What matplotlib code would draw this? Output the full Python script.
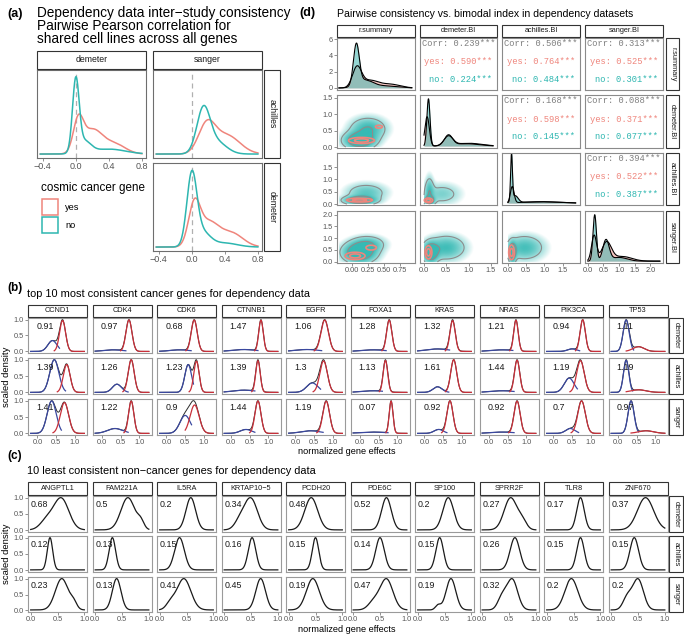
import numpy as np
import matplotlib
matplotlib.use('Agg')
import matplotlib.pyplot as plt
from matplotlib.patches import Rectangle
from matplotlib.colors import to_rgb

plt.rcParams['font.family'] = ['Liberation Sans', 'DejaVu Sans']

W, H = 684, 637

# ---------------- data ----------------
datasets = ['demeter', 'achilles', 'sanger']

# (a) density curves, components (centre, sd, height)
a_ach_dem_no = [(0.0, 0.04, 72), (0.1, 0.08, 12), (0.4, 0.2, 5)]
a_ach_dem_yes = [(0.03, 0.06, 31), (0.2, 0.12, 24), (0.47, 0.13, 10)]
a_ach_sang_no = [(0.14, 0.08, 44), (0.3, 0.12, 12)]
a_ach_sang_yes = [(0.18, 0.1, 28), (0.42, 0.16, 19)]
a_dem_sang_no = [(0.0, 0.06, 70), (0.12, 0.1, 15), (0.4, 0.15, 4)]
a_dem_sang_yes = [(0.03, 0.07, 40), (0.2, 0.12, 24), (0.48, 0.14, 14)]
a_xticks = [-0.4, 0.0, 0.4, 0.8]
a_xticklabels = ['−0.4', '0.0', '0.4', '0.8']

# (b) top 10 consistent cancer genes
b_genes = ['CCND1', 'CDK4', 'CDK6', 'CTNNB1', 'EGFR', 'FOXA1', 'KRAS', 'NRAS', 'PIK3CA', 'TP53']
b_bi = [[0.91, 0.97, 0.68, 1.47, 1.06, 1.28, 1.32, 1.21, 0.94, 1.11],
        [1.39, 1.26, 1.23, 1.39, 1.3, 1.13, 1.61, 1.44, 1.19, 1.19],
        [1.41, 1.22, 0.9, 1.44, 1.19, 0.07, 0.92, 0.92, 0.7, 0.97]]
b_red_mu = [[0.67, 0.72, 0.74, 0.80, 0.78, 0.78, 0.75, 0.72, 0.78, 0.55],
            [0.78, 0.78, 0.80, 0.72, 0.75, 0.68, 0.78, 0.75, 0.72, 0.55],
            [0.72, 0.78, 0.75, 0.72, 0.82, 0.83, 0.68, 0.75, 0.75, 0.75]]
b_red_sd = [[0.08, 0.08, 0.08, 0.06, 0.10, 0.07, 0.07, 0.06, 0.07, 0.15],
            [0.09, 0.08, 0.07, 0.06, 0.10, 0.06, 0.08, 0.07, 0.10, 0.20],
            [0.11, 0.07, 0.12, 0.08, 0.09, 0.05, 0.08, 0.08, 0.10, 0.20]]
b_red_h = [[1.0, 1.0, 1.0, 1.0, 1.0, 1.0, 1.0, 1.0, 1.0, 0.15],
           [0.85, 1.0, 0.9, 1.0, 1.0, 1.0, 1.0, 1.0, 1.0, 0.08],
           [0.9, 1.0, 0.95, 1.0, 1.0, 1.0, 1.0, 1.0, 1.0, 0.08]]
b_blue_mu = [[0.40, 0.30, 0.35, 0.35, 0.30, 0.35, 0.35, 0.35, 0.50, 0.22],
             [0.45, 0.40, 0.58, 0.35, 0.45, 0.35, 0.35, 0.35, 0.42, 0.22],
             [0.38, 0.35, 0.50, 0.40, 0.40, 0.35, 0.38, 0.35, 0.45, 0.35]]
b_blue_sd = [[0.12, 0.25, 0.25, 0.30, 0.30, 0.30, 0.30, 0.30, 0.12, 0.08],
             [0.12, 0.12, 0.09, 0.30, 0.15, 0.30, 0.12, 0.30, 0.13, 0.07],
             [0.12, 0.20, 0.14, 0.15, 0.25, 0.35, 0.12, 0.30, 0.12, 0.08]]
b_blue_h = [[0.35, 0.05, 0.05, 0.06, 0.06, 0.05, 0.08, 0.05, 0.08, 1.0],
            [1.0, 0.25, 0.8, 0.07, 0.3, 0.05, 0.17, 0.05, 0.45, 1.0],
            [0.95, 0.15, 0.6, 0.12, 0.08, 0.04, 0.12, 0.04, 0.15, 1.0]]

# (c) 10 least consistent non-cancer genes
c_genes = ['ANGPTL1', 'FAM221A', 'IL5RA', 'KRTAP10−5', 'PCDH20', 'PDE6C', 'SP100', 'SPRR2F', 'TLR8', 'ZNF670']
c_bi = [[0.68, 0.5, 0.2, 0.34, 0.48, 0.52, 0.2, 0.27, 0.17, 0.37],
        [0.12, 0.13, 0.15, 0.16, 0.15, 0.14, 0.15, 0.26, 0.15, 0.15],
        [0.23, 0.13, 0.41, 0.45, 0.19, 0.47, 0.19, 0.32, 0.2, 0.2]]
c_mu = [[0.57, 0.61, 0.58, 0.50, 0.42, 0.62, 0.57, 0.53, 0.63, 0.64],
        [0.36, 0.32, 0.37, 0.52, 0.50, 0.50, 0.41, 0.61, 0.63, 0.43],
        [0.58, 0.40, 0.45, 0.68, 0.45, 0.62, 0.62, 0.56, 0.46, 0.50]]
c_sd = [[0.14, 0.13, 0.09, 0.12, 0.12, 0.09, 0.10, 0.12, 0.07, 0.15],
        [0.05, 0.06, 0.09, 0.07, 0.06, 0.08, 0.07, 0.09, 0.07, 0.08],
        [0.12, 0.08, 0.13, 0.09, 0.12, 0.12, 0.09, 0.10, 0.12, 0.10]]
c_sh_mu = [[0.30, 0.85, 0.00, 0.30, 0.00, 0.00, 0.00, 0.75, 0.00, 0.00],
           [0.00, 0.00, 0.00, 0.00, 0.00, 0.00, 0.00, 0.00, 0.00, 0.00],
           [0.80, 0.00, 0.20, 0.00, 0.00, 0.38, 0.38, 0.37, 0.00, 0.30]]
c_sh_sd = [[0.12, 0.06, 0.10, 0.10, 0.10, 0.10, 0.10, 0.08, 0.10, 0.10],
           [0.10, 0.10, 0.10, 0.10, 0.10, 0.10, 0.10, 0.10, 0.10, 0.10],
           [0.06, 0.10, 0.08, 0.10, 0.10, 0.10, 0.05, 0.08, 0.10, 0.08]]
c_sh_h = [[0.30, 0.22, 0.00, 0.30, 0.00, 0.00, 0.00, 0.25, 0.00, 0.00],
          [0.00, 0.00, 0.00, 0.00, 0.00, 0.00, 0.00, 0.00, 0.00, 0.00],
          [0.20, 0.00, 0.20, 0.00, 0.00, 0.25, 0.15, 0.40, 0.00, 0.40]]

# (d) pairs plot
d_vars = ['r.summary', 'demeter.BI', 'achilles.BI', 'sanger.BI']
dens_rs_no = [(0.07, 0.045, 5.0), (0.2, 0.12, 0.9), (0.5, 0.2, 0.25)]
dens_rs_yes = [(0.08, 0.07, 2.45), (0.28, 0.13, 0.9), (0.6, 0.15, 0.45)]
dens_dem_no = [(0.1, 0.035, 1.0), (0.55, 0.09, 0.22), (0.95, 0.3, 0.05)]
dens_dem_yes = [(0.07, 0.05, 0.62), (0.55, 0.1, 0.2), (1.0, 0.3, 0.06)]
dens_ach_no = [(0.1, 0.025, 1.0), (0.2, 0.08, 0.15), (0.9, 0.5, 0.03)]
dens_ach_yes = [(0.12, 0.05, 0.35), (0.9, 0.5, 0.03)]
dens_sang_no = [(0.22, 0.055, 1.0), (0.58, 0.1, 0.45), (1.0, 0.25, 0.08)]
dens_sang_yes = [(0.2, 0.08, 0.55), (0.6, 0.15, 0.4), (1.1, 0.3, 0.1)]
d_ranges = [(-0.2, 0.93), (0.0, 1.55), (0.0, 1.85), (0.0, 2.3)]

# clouds: (cx, cy, sx, sy, weight)
cloud_dem_rs_no = [(0.12, 0.2, 0.14, 0.15, 1.0), (0.25, 0.55, 0.16, 0.2, 0.5)]
cloud_dem_rs_yes = [(0.15, 0.2, 0.13, 0.06, 1.0), (0.42, 0.62, 0.06, 0.05, 0.45)]
cloud_ach_rs_no = [(0.12, 0.15, 0.14, 0.1, 1.0), (0.22, 0.45, 0.18, 0.22, 0.35)]
cloud_ach_rs_yes = [(0.12, 0.16, 0.13, 0.05, 1.0)]
cloud_ach_dem_no = [(0.12, 0.15, 0.07, 0.1, 1.0), (0.12, 0.5, 0.06, 0.35, 0.5), (0.4, 0.4, 0.25, 0.25, 0.3)]
cloud_ach_dem_yes = [(0.1, 0.15, 0.06, 0.06, 1.0)]
cloud_sang_rs_no = [(0.12, 0.4, 0.15, 0.25, 1.0), (0.25, 0.75, 0.15, 0.2, 0.4)]
cloud_sang_rs_yes = [(0.05, 0.25, 0.1, 0.1, 1.0), (0.3, 0.6, 0.08, 0.1, 0.5)]
cloud_sang_dem_no = [(0.15, 0.4, 0.1, 0.25, 1.0), (0.5, 0.6, 0.25, 0.3, 0.5)]
cloud_sang_dem_yes = [(0.1, 0.4, 0.05, 0.18, 1.0)]
cloud_sang_ach_no = [(0.12, 0.4, 0.06, 0.25, 1.0), (0.45, 0.6, 0.3, 0.3, 0.5)]
cloud_sang_ach_yes = [(0.1, 0.4, 0.05, 0.2, 1.0)]

corr_all = [[None, 0.239, 0.506, 0.313], [None, None, 0.168, 0.088], [None, None, None, 0.394]]
corr_yes = [[None, 0.590, 0.764, 0.525], [None, None, 0.598, 0.371], [None, None, None, 0.522]]
corr_no = [[None, 0.224, 0.484, 0.301], [None, None, 0.145, 0.077], [None, None, None, 0.387]]

col_yes = '#EF857C'
col_no = '#2DB6B0'
col_red = '#C9303A'
col_blue = '#3A48A0'

# ---------------- helpers ----------------
fig = plt.figure(figsize=(W / 100, H / 100), dpi=100)


def add_px(x0, y0, x1, y1):
    return fig.add_axes([x0 / W, 1 - y1 / H, (x1 - x0) / W, (y1 - y0) / H])


def ftext(x, y, s, **kw):
    return fig.text(x / W, 1 - y / H, s, **kw)


def strip(x0, y0, x1, y1, label, rot=0, fs=5.3):
    fig.add_artist(Rectangle((x0 / W, 1 - y1 / H), (x1 - x0) / W, (y1 - y0) / H,
                             transform=fig.transFigure, facecolor='white',
                             edgecolor='#333333', lw=0.8))
    ftext((x0 + x1) / 2, (y0 + y1) / 2, label, rotation=rot, ha='center',
          va='center', fontsize=fs, color='#1a1a1a')


def frame(ax, ec='#999999', fs=5.3):
    for s in ax.spines.values():
        s.set_edgecolor(ec)
        s.set_linewidth(0.8)
    ax.tick_params(length=2, width=0.5, color='#666666', labelsize=fs,
                   labelcolor='#555555', pad=1)
    ax.set_xticks([])
    ax.set_yticks([])


def mix(x, comps):
    y = np.zeros_like(x)
    for mu, sd, h in comps:
        y = y + h * np.exp(-0.5 * ((x - mu) / sd) ** 2)
    return y


def mix2d(X, Y, comps):
    z = np.zeros_like(X)
    for cx, cy, sx, sy, w in comps:
        z = z + w * np.exp(-0.5 * (((X - cx) / sx) ** 2 + ((Y - cy) / sy) ** 2))
    return z


# ---------------- (a) ----------------
ftext(7, 14, '(a)', fontsize=9, fontweight='bold', va='center')
for k, line in enumerate(['Dependency data inter−study consistency',
                          'Pairwise Pearson correlation for',
                          'shared cell lines across all genes']):
    ftext(37, 13 + 12.8 * k, line, fontsize=9.8, va='center')

strip(37, 51, 146, 69, 'demeter', fs=6.3)
strip(153, 51, 262, 69, 'sanger', fs=6.3)
strip(264, 70, 280, 158, 'achilles', rot=-90, fs=6.3)
strip(264, 163, 280, 251, 'demeter', rot=-90, fs=6.3)

xa = np.linspace(-0.43, 0.80, 300)
a_panels = [((37, 70, 146, 158), a_ach_dem_no, a_ach_dem_yes, True),
            ((153, 70, 262, 158), a_ach_sang_no, a_ach_sang_yes, False),
            ((153, 163, 262, 251), a_dem_sang_no, a_dem_sang_yes, True)]
for box, no, yes, show_x in a_panels:
    ax = add_px(*box)
    frame(ax, '#6e6e6e', fs=6.5)
    ax.axvline(0, color='#b0b0b0', ls=(0, (4, 3)), lw=0.9)
    ax.plot(xa, mix(xa, yes), color=col_yes, lw=1.1)
    ax.plot(xa, mix(xa, no), color=col_no, lw=1.1)
    ax.set_xlim(-0.47, 0.85)
    ax.set_ylim(-4, 85)
    ax.set_xticks(a_xticks)
    if show_x:
        ax.set_xticklabels(a_xticklabels)
    else:
        ax.set_xticklabels([])
        ax.tick_params(axis='x', length=0)

ftext(41, 188, 'cosmic cancer gene', fontsize=8.4, va='center')
for k, (lab, c) in enumerate([('yes', col_yes), ('no', col_no)]):
    y0 = 199 + 18 * k
    fig.add_artist(Rectangle((42 / W, 1 - (y0 + 16) / H), 16 / W, 16 / H,
                             transform=fig.transFigure, facecolor='white',
                             edgecolor=c, lw=1.1))
    ftext(65, y0 + 8, lab, fontsize=6.6, va='center')

# ---------------- (d) ----------------
ftext(299, 13, '(d)', fontsize=9, fontweight='bold', va='center')
ftext(337, 14, 'Pairwise consistency vs. bimodal index in dependency datasets',
      fontsize=7.6, va='center')

d_cols = [(337, 415), (420, 497), (502, 580), (585, 663)]
d_rows = [(38, 90), (95, 148), (153, 205), (211, 263)]
d_xlims = [(-0.23, 0.98), (-0.09, 1.64), (-0.16, 1.97), (-0.09, 2.4)]
d_ylims = [(-0.25, 6.15), (-0.03, 1.59), (-0.04, 2.07), (-0.05, 2.15)]
d_xticks = [[0, 0.25, 0.5, 0.75], [0, 0.5, 1, 1.5], [0, 0.5, 1, 1.5], [0, 0.5, 1, 1.5, 2]]
d_xticklabels = [['0.00', '0.25', '0.50', '0.75'], ['0.0', '0.5', '1.0', '1.5'],
                 ['0.0', '0.5', '1.0', '1.5'], ['0.0', '0.5', '1.0', '1.5', '2.0']]
d_yticks = [[0, 2, 4, 6], [0, 0.5, 1, 1.5], [0, 0.5, 1, 1.5], [0, 0.5, 1, 1.5, 2]]
d_yticklabels = [['0', '2', '4', '6'], ['0.0', '0.5', '1.0', '1.5'],
                 ['0.0', '0.5', '1.0', '1.5'], ['0.0', '0.5', '1.0', '1.5', '2.0']]
diag_no = [dens_rs_no, dens_dem_no, dens_ach_no, dens_sang_no]
diag_yes = [dens_rs_yes, dens_dem_yes, dens_ach_yes, dens_sang_yes]
clouds_no = {(1, 0): cloud_dem_rs_no, (2, 0): cloud_ach_rs_no, (2, 1): cloud_ach_dem_no,
             (3, 0): cloud_sang_rs_no, (3, 1): cloud_sang_dem_no, (3, 2): cloud_sang_ach_no}
clouds_yes = {(1, 0): cloud_dem_rs_yes, (2, 0): cloud_ach_rs_yes, (2, 1): cloud_ach_dem_yes,
              (3, 0): cloud_sang_rs_yes, (3, 1): cloud_sang_dem_yes, (3, 2): cloud_sang_ach_yes}

for j, v in enumerate(d_vars):
    strip(d_cols[j][0], 25, d_cols[j][1], 37, v, fs=5.3)
    strip(666, d_rows[j][0], 679, d_rows[j][1], v, rot=-90, fs=5.3)

teal_rgb = np.array(to_rgb('#1fb2ac'))
mono = ['Liberation Mono', 'DejaVu Sans Mono']
for i in range(4):
    for j in range(4):
        ax = add_px(d_cols[j][0], d_rows[i][0], d_cols[j][1], d_rows[i][1])
        frame(ax, '#8a8a8a')
        ax.set_xlim(*d_xlims[j])
        if i == j:
            xs = np.linspace(*d_ranges[j], 300)
            yy = mix(xs, diag_yes[j])
            yn = mix(xs, diag_no[j])
            ax.fill_between(xs, 0, yy, color='#F4A29C', alpha=0.6, lw=0)
            ax.fill_between(xs, 0, yn, color='#3DB5B0', alpha=0.55, lw=0)
            ax.plot(xs, yy, color='black', lw=0.8)
            ax.plot(xs, yn, color='black', lw=0.8)
            ax.set_ylim(*(d_ylims[0] if i == 0 else (-0.04, 1.08)))
        elif i < j:
            ax.set_ylim(0, 1)
            cx = sum(d_xlims[j]) / 2
            ax.text(cx, 0.9, f'Corr: {corr_all[i][j]:.3f}***', ha='center', va='center',
                    family=mono, fontsize=6.3, color='#7f7f7f')
            ax.text(cx, 0.54, f'yes: {corr_yes[i][j]:.3f}***', ha='center', va='center',
                    family=mono, fontsize=6.3, color=col_yes)
            ax.text(cx + 0.03 * (d_xlims[j][1] - d_xlims[j][0]), 0.21,
                    f'no: {corr_no[i][j]:.3f}***', ha='center', va='center',
                    family=mono, fontsize=6.3, color=col_no)
        else:
            ax.set_ylim(*d_ylims[i])
            x_lo = max(d_xlims[j][0], d_ranges[j][0])
            y_lo = max(d_ylims[i][0], d_ranges[i][0])
            gx = np.linspace(x_lo, d_xlims[j][1], 240)
            gy = np.linspace(y_lo, d_ylims[i][1], 240)
            X, Y = np.meshgrid(gx, gy)
            zn = mix2d(X, Y, clouds_no[(i, j)])
            zy = mix2d(X, Y, clouds_yes[(i, j)])
            zn = zn / zn.max()
            zy = zy / zy.max()
            rgba = np.zeros(zn.shape + (4,))
            rgba[..., :3] = teal_rgb
            rgba[..., 3] = np.clip(1.8 * zn ** 0.3 - 0.55, 0, 0.9)
            ax.imshow(rgba, extent=(x_lo, d_xlims[j][1], y_lo, d_ylims[i][1]),
                      origin='lower', aspect='auto', interpolation='bilinear')
            ax.contour(X, Y, zn, levels=[0.12, 0.45], colors='#8c8c8c', linewidths=0.8)
            ax.contour(X, Y, zy, levels=[0.3, 0.7], colors=col_yes, linewidths=1.2)
            ax.set_xlim(*d_xlims[j])
            ax.set_ylim(*d_ylims[i])
        if j == 0:
            ax.set_yticks(d_yticks[i])
            ax.set_yticklabels(d_yticklabels[i])
            if i == 0:
                ax.set_ylim(*d_ylims[0])
        if i == 3:
            ax.set_xticks(d_xticks[j])
            ax.set_xticklabels(d_xticklabels[j])

# ---------------- (b) and (c) ----------------
col_x0 = [28 + 64.5 * k for k in range(10)]
pw = 59


def small_multiples(rows, strip_y, genes, draw, xlim, tick_y, lab_pos):
    for g in range(10):
        x0 = col_x0[g]
        strip(x0, strip_y[0], x0 + pw, strip_y[1], genes[g], fs=5.3)
    for r in range(3):
        strip(669, rows[r][0], 683, rows[r][1], datasets[r], rot=-90, fs=5.3)
        for g in range(10):
            x0 = col_x0[g]
            ax = add_px(x0, rows[r][0], x0 + pw, rows[r][1])
            frame(ax, '#9a9a9a')
            label = draw(ax, r, g)
            ax.text(lab_pos[0], lab_pos[1], label, transform=ax.transAxes,
                    fontsize=6.4, ha='left', va='center', color='#1a1a1a')
            ax.set_xlim(*xlim)
            ax.set_ylim(-0.05, 1.05)
            if g == 0:
                ax.set_yticks([0, 0.5, 1.0])
                ax.set_yticklabels(['0.0', '0.5', '1.0'])
            if r == 2:
                ax.set_xticks([0, 0.5, 1.0])
                ax.set_xticklabels(['0.0', '0.5', '1.0'])
    ftext(7, (rows[0][0] + rows[2][1]) / 2, 'scaled density', rotation=90,
          fontsize=6.8, ha='center', va='center')
    ftext(347, tick_y, 'normalized gene effects', fontsize=6.6, ha='center', va='center')


xb = np.linspace(-0.18, 1.25, 400)


def draw_b(ax, r, g):
    red = [(b_red_mu[r][g], b_red_sd[r][g], b_red_h[r][g])]
    blue = [(b_blue_mu[r][g], b_blue_sd[r][g], b_blue_h[r][g])]
    yr = mix(xb, red)
    yb = mix(xb, blue)
    tot = yr + yb
    s = 1.0 / tot.max()
    red_start = max(b_red_mu[r][g] - 2.8 * b_red_sd[r][g], b_blue_mu[r][g])
    blue_end = min(b_blue_mu[r][g] + 2.5 * b_blue_sd[r][g], b_red_mu[r][g] - 0.08)
    if b_blue_mu[r][g] > b_red_mu[r][g] - 0.2 or b_blue_h[r][g] >= 1.0:
        blue_end = b_blue_mu[r][g] + 2.5 * b_blue_sd[r][g]
    ax.plot(xb, tot * s, color='#2b2b2b', lw=0.7)
    mr = xb >= red_start
    mb = xb <= blue_end
    ax.plot(xb[mb], yb[mb] * s, color=col_blue, lw=0.9)
    ax.plot(xb[mr], yr[mr] * s, color=col_red, lw=0.9)
    return f'{b_bi[r][g]:g}'


xc = np.linspace(0, 1, 300)


def draw_c(ax, r, g):
    comps = [(c_mu[r][g], c_sd[r][g], 1.0)]
    if c_sh_h[r][g] > 0:
        comps.append((c_sh_mu[r][g], c_sh_sd[r][g], c_sh_h[r][g]))
    y = mix(xc, comps) + 0.015
    ax.plot(xc, y / y.max(), color='#1a1a1a', lw=0.9)
    return f'{c_bi[r][g]:g}'


ftext(7, 288, '(b)', fontsize=8.5, fontweight='bold', va='center')
ftext(27, 294, 'top 10 most consistent cancer genes for dependency data', fontsize=7.9, va='center')
small_multiples([(318, 353), (358, 394), (399, 435)], (305, 317), b_genes, draw_b,
                (-0.25, 1.32), 452, (0.14, 0.75))

ftext(7, 456, '(c)', fontsize=8.5, fontweight='bold', va='center')
ftext(27, 471, '10 least consistent non−cancer genes for dependency data', fontsize=7.9, va='center')
small_multiples([(496, 532), (536, 572), (577, 612)], (482, 495), c_genes, draw_c,
                (-0.05, 1.05), 629, (0.05, 0.77))

fig.savefig('out.png', dpi=100)
